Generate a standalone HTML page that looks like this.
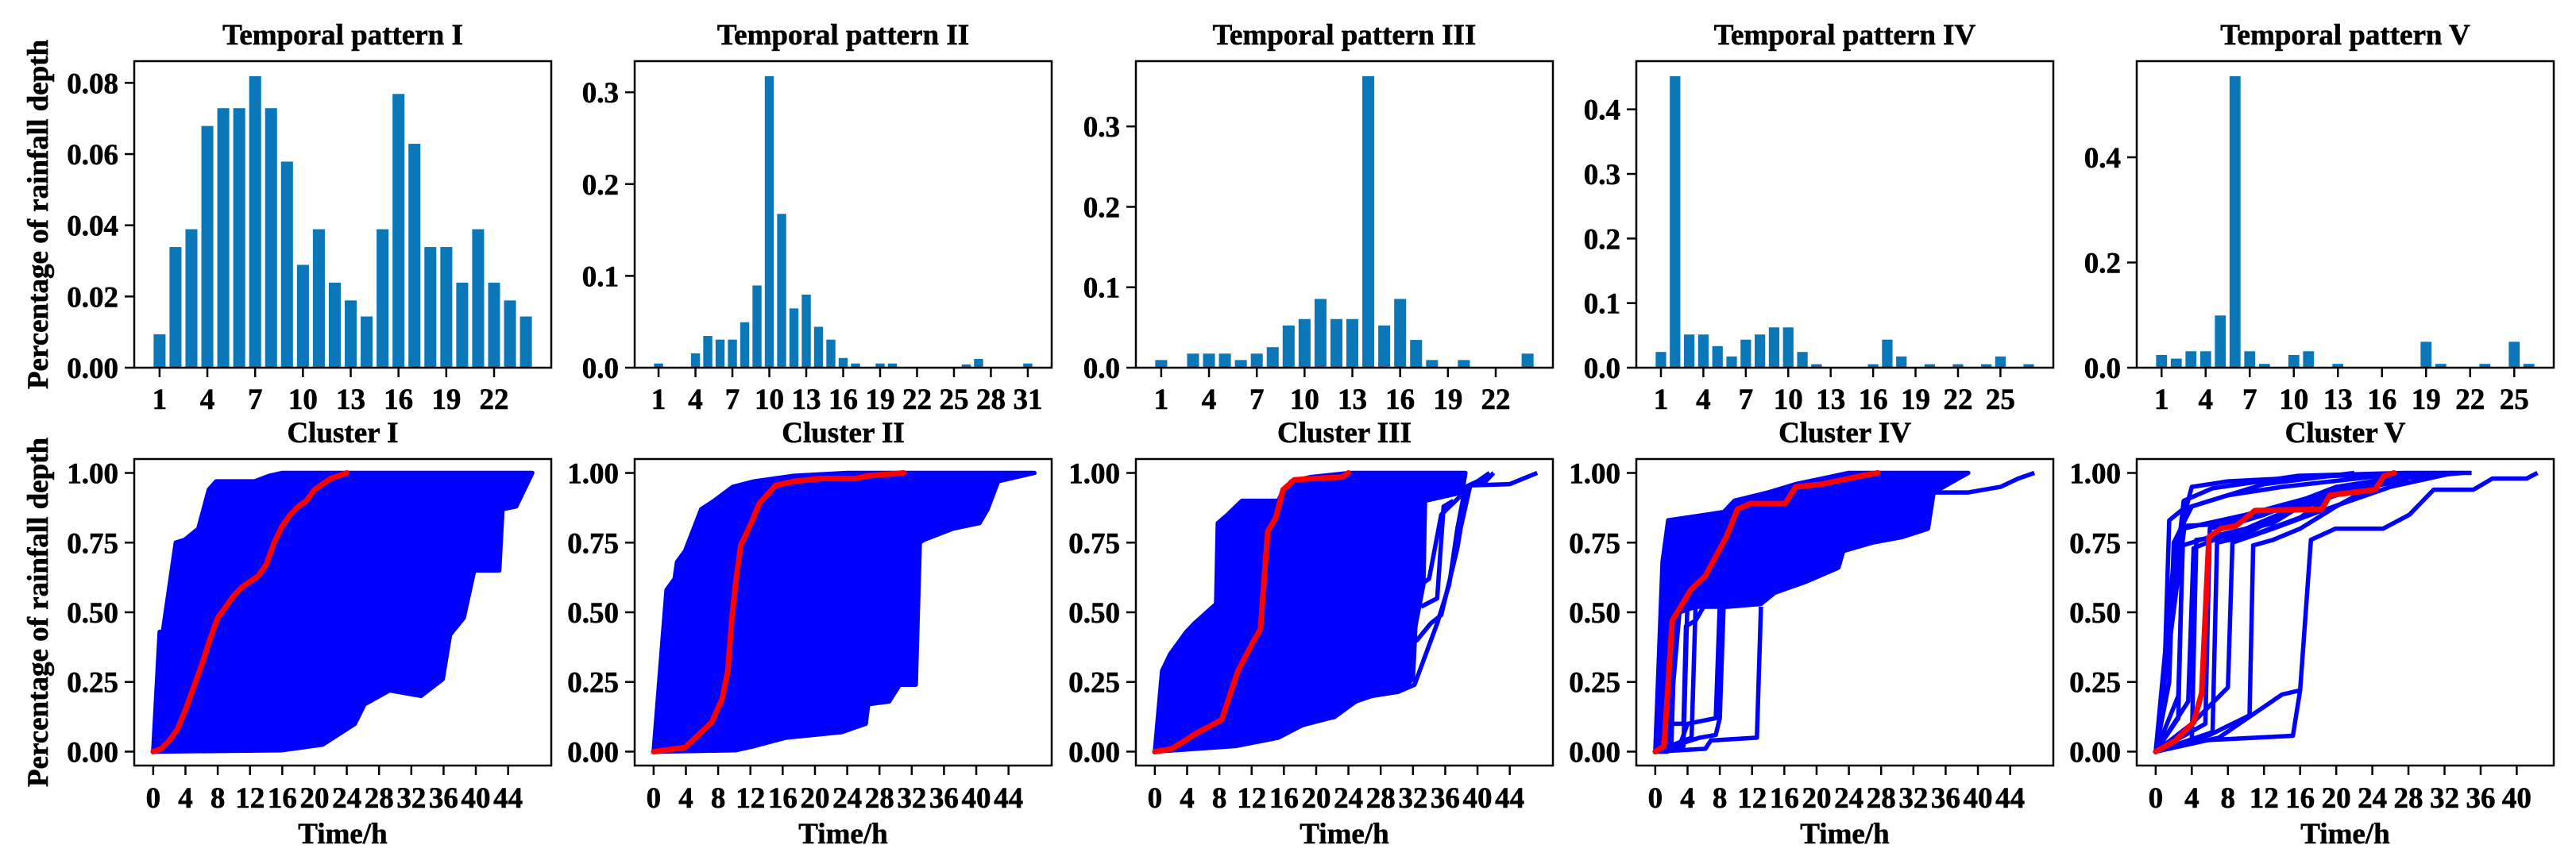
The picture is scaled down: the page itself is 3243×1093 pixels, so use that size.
<!DOCTYPE html>
<html><head><meta charset="utf-8">
<style>
html,body{margin:0;padding:0;background:#fff;}
svg{display:block;font-family:"Liberation Serif","Times New Roman",serif;font-weight:bold;}
</style></head>
<body>
<svg id="fig" width="3243" height="1093" viewBox="0 0 3243 1093" xmlns="http://www.w3.org/2000/svg">
<rect x="0" y="0" width="3243" height="1093" fill="#fff"/>
</svg>
<script>
// ---- Top row data: temporal pattern bars ----
const barsI = [0.0095,0.034,0.039,0.068,0.073,0.073,0.082,0.073,0.058,0.029,0.039,0.024,0.019,0.0145,0.039,0.077,0.063,0.034,0.034,0.024,0.039,0.024,0.019,0.0145];
const barsII = [0.005,0,0,0.016,0.035,0.031,0.031,0.05,0.09,0.318,0.168,0.065,0.08,0.045,0.031,0.011,0.005,0,0.005,0.005,0,0,0,0,0,0.004,0.01,0,0,0,0.005];
const barsIII = [0.01,0,0.018,0.018,0.018,0.01,0.018,0.026,0.053,0.061,0.086,0.061,0.061,0.363,0.053,0.086,0.035,0.01,0,0.01,0,0,0,0.018];
const barsIV = [0.025,0.452,0.052,0.052,0.034,0.018,0.044,0.052,0.063,0.063,0.025,0.006,0,0,0,0.006,0.044,0.018,0,0.006,0,0.006,0,0.006,0.018,0,0.006];
const barsV = [0.025,0.018,0.032,0.032,0.1,0.555,0.032,0.008,0,0.025,0.032,0,0.008,0,0,0,0,0,0.05,0.008,0,0,0.008,0,0.05,0.008];
const barXTicksI = [1,4,7,10,13,16,19,22];
const barXTicksII = [1,4,7,10,13,16,19,22,25,28,31];
const barXTicksIII = [1,4,7,10,13,16,19,22];
const barXTicksIV = [1,4,7,10,13,16,19,22,25];
const barXTicksV = [1,4,7,10,13,16,19,22,25];
const barYTicksI = ["0.00","0.02","0.04","0.06","0.08"];
const barYTicksII = ["0.0","0.1","0.2","0.3"];
const barYTicksIII = ["0.0","0.1","0.2","0.3"];
const barYTicksIV = ["0.0","0.1","0.2","0.3","0.4"];
const barYTicksV = ["0.0","0.2","0.4"];
const topTitles = ["Temporal pattern I","Temporal pattern II","Temporal pattern III","Temporal pattern IV","Temporal pattern V"];

// ---- Bottom row data: cumulative curves ----
const bottomTitles = ["Cluster I","Cluster II","Cluster III","Cluster IV","Cluster V"];
const lineXMax = [47,47,47,47,42];
const lineXTicksA = [0,4,8,12,16,20,24,28,32,36,40,44];
const lineXTicksV = [0,4,8,12,16,20,24,28,32,36,40];
const lineYTicks = ["0.00","0.25","0.50","0.75","1.00"];

// envelope polygons (dense bundles of blue curves), [x,y] pairs
const envI = [[0,0],[0.8,0.43],[1.2,0.43],[2.8,0.75],[3.9,0.76],[5.6,0.8],[6.9,0.94],[7.8,0.97],[12.6,0.97],[14.4,0.99],[16,1],[47,1],
  [45,0.88],[43.3,0.87],[42.9,0.65],[39.8,0.65],[38.5,0.48],[36.8,0.42],[35.9,0.26],[33.2,0.2],[29.3,0.22],[26.2,0.17],[25,0.1],[21,0.025],[16,0.005],[0,0]];
const envII = [[0,0],[1.6,0.58],[2.6,0.62],[2.9,0.68],[3.9,0.72],[5.9,0.87],[7.5,0.9],[9.8,0.95],[12.5,0.97],[17.4,0.99],[24,1],[47.2,1],
  [42.7,0.97],[41.4,0.87],[40.4,0.82],[37.1,0.8],[33.5,0.76],[33,0.75],[32.5,0.24],[30.5,0.24],[29.2,0.18],[26.6,0.17],[26.3,0.1],[23.3,0.07],[16.4,0.05],[12.5,0.02],[10.2,0.005],[0,0]];
const envIII = [[0,0],[0.9,0.29],[1.9,0.35],[3.9,0.43],[4.9,0.46],[7.6,0.53],[7.8,0.82],[9,0.85],[10.8,0.9],[15.3,0.9],[15.8,0.93],[16.9,0.97],[19.3,0.985],[24.2,1],[38.5,1],
  [38.1,0.93],[33.5,0.9],[33.3,0.6],[32.3,0.45],[32,0.26],[30.2,0.215],[26.9,0.2],[24.9,0.18],[22.3,0.125],[18.3,0.095],[15.3,0.05],[10,0.02],[0,0]];
const envIV = [[0,0],[0.9,0.68],[1.6,0.83],[8.5,0.86],[9.8,0.9],[14,0.93],[17.4,0.96],[20.7,0.98],[24,1],[38.8,1],
  [34.5,0.93],[33.8,0.8],[30.6,0.77],[26.9,0.75],[23.3,0.72],[22.7,0.66],[18.7,0.61],[14.8,0.57],[13.1,0.53],[9,0.52],[5,0.52],[3,0.5],[1.8,0.1],[1.5,0],[0,0]];

// individual blue curves
const curvesIII = [
  [[26.9,0.39],[32.5,0.4],[34.2,0.46],[35.5,0.49],[37.5,0.73],[37.9,0.8],[39.1,0.955],[44,0.96],[47.4,1]],
  [[22,0.12],[24.9,0.18],[26.9,0.2],[30.2,0.215],[32.2,0.24],[35,0.46],[36.5,0.6],[37.5,0.8],[38.5,0.95],[41,0.97],[42,1]],
  [[33,0.6],[34,0.62],[35.5,0.85],[38,0.92]],
  [[33,0.52],[35,0.55],[35.8,0.88],[37,0.9]],
  [[36,0.93],[38.5,0.95],[40,0.97],[41.5,1]]
];
const curvesIV = [
  [[0,0],[6.2,0.01],[6.9,0.04],[12.6,0.05],[13.1,0.52]],
  [[0,0],[3,0.02],[4,0.1],[7.5,0.12],[8,0.53]],
  [[0,0],[2,0.03],[2.5,0.5]],
  [[0,0],[4.5,0.05],[5,0.52]],
  [[0,0],[3.5,0.02],[4,0.55]],
  [[0,0],[2.2,0.1],[3.5,0.1],[3.8,0.45],[5,0.47],[6,0.52]],
  [[0,0],[5.5,0.05],[7.5,0.06],[8,0.12],[8.5,0.55]],
  [[33.8,0.8],[34.5,0.93],[38.8,0.93],[42.8,0.95],[45,0.98],[47,1]]
];
const curvesV = [
  [[0,0],[3.1,0.9],[6.3,0.945],[15.8,0.99],[27.5,1],[35,1]],
  [[0,0],[2.1,0.72],[4,0.95],[8,0.97],[20,0.99],[33,1]],
  [[0,0],[3.2,0.81],[9,0.82],[12,0.85],[16,0.9],[20,0.95],[28,0.99],[32,1]],
  [[0,0],[4,0.03],[4.5,0.76],[10,0.78],[14,0.85],[20,0.92],[28,0.98]],
  [[0,0],[5,0.04],[15.2,0.057],[16,0.22],[17.2,0.76],[19.9,0.8],[25.2,0.8],[28.1,0.85],[30.8,0.94],[35.2,0.94],[37.3,0.98],[41.1,0.98],[42.3,1]],
  [[0,0],[6,0.06],[10.4,0.13],[10.8,0.74],[13,0.76],[16,0.8],[20,0.88],[24,0.95],[30,1]],
  [[0,0],[7,0.05],[14,0.205],[16,0.22]],
  [[0,0],[2.5,0.2],[3,0.74],[6,0.77],[10,0.8],[15,0.87],[22,0.95],[30,1]],
  [[0,0],[3.6,0.18],[4.2,0.73],[8,0.78],[13,0.82],[17,0.9],[24,0.97],[34,1]],
  [[0,0],[6.3,0.07],[6.8,0.75],[11,0.78],[16,0.84],[20,0.93],[30,1]],
  [[0,0],[1.5,0.25],[2,0.75],[4,0.88],[8,0.92],[14,0.95],[25,0.99],[31,1]],
  [[0,0],[4,0.1],[8,0.23],[8.5,0.75],[13,0.8],[18,0.86],[26,0.95],[33,1]],
  [[0,0],[2.5,0.12],[3,0.8],[10,0.85],[18,0.92],[26,0.98]],
  [[0,0],[5.5,0.1],[6,0.8],[12,0.86],[20,0.92],[27,1]],
  [[0,0],[1,0.3],[1.5,0.83],[3,0.87],[6,0.9],[12,0.96],[22,1]]
];
// red mean curves
const redI = [[0,0],[1,0.01],[2,0.04],[3,0.08],[4,0.15],[5,0.23],[6,0.31],[7,0.4],[8,0.48],[9,0.52],[10,0.56],[11,0.59],[12,0.61],[13,0.63],[14,0.67],[15,0.75],[16,0.81],[17,0.85],[18,0.88],[19,0.9],[20,0.94],[21,0.96],[22,0.98],[23,0.99],[24,1]];
const redII = [[0,0],[3.9,0.015],[7.2,0.105],[8.5,0.19],[9.2,0.29],[9.7,0.48],[10.2,0.61],[10.8,0.74],[12.1,0.82],[13.1,0.89],[15.1,0.955],[17.4,0.97],[20.7,0.98],[25,0.98],[26.6,0.99],[31,1]];
const redIII = [[0,0],[2.1,0.01],[5.4,0.07],[7.4,0.1],[8.3,0.115],[10.3,0.29],[12.3,0.4],[13.1,0.44],[13.3,0.52],[14,0.79],[15,0.84],[15.9,0.94],[17.3,0.975],[19.6,0.98],[23.2,0.985],[24,1]];
const redIV = [[0,0],[1.1,0.02],[2.1,0.47],[4.4,0.58],[6.2,0.63],[7.5,0.7],[8.8,0.77],[10.2,0.87],[11.8,0.89],[16.1,0.89],[17.4,0.95],[20.7,0.96],[24,0.98],[25.6,0.99],[27.6,1]];
const redV = [[0,0],[2.2,0.04],[4.2,0.105],[5.1,0.21],[5.9,0.77],[7.2,0.8],[8.9,0.81],[11,0.865],[18.4,0.87],[19.3,0.92],[24.3,0.94],[25.3,0.99],[26.4,1]];

const topBars = [barsI,barsII,barsIII,barsIV,barsV];
const topXT = [barXTicksI,barXTicksII,barXTicksIII,barXTicksIV,barXTicksV];
const topYT = [barYTicksI,barYTicksII,barYTicksIII,barYTicksIV,barYTicksV];
const envs = [envI,envII,envIII,envIV,null];
const curves = [[],[],curvesIII,curvesIV,curvesV];
const reds = [redI,redII,redIII,redIV,redV];

// ---- layout ----
const NS = "http://www.w3.org/2000/svg";
const svg = document.getElementById('fig');
const LEFTS = [169,799,1430,2060,2690];
const PW = 525;
const TOP = {y0:77,y1:463}, BOT = {y0:578,y1:964};
const FS = 37;
const LW = 5.5;

function mk(tag, attrs, parent){
  const e = document.createElementNS(NS, tag);
  for (const k in attrs) e.setAttribute(k, attrs[k]);
  (parent||svg).appendChild(e);
  return e;
}
function txt(s, x, y, anchor, parent, size){
  const t = mk('text', {x:x, y:y, 'text-anchor':anchor, 'font-size':size||FS, fill:'#000', stroke:'#000', 'stroke-width':0.6}, parent);
  t.textContent = s;
  return t;
}
function scale(d0,d1,r0,r1){ return v => r0 + (v-d0)/(d1-d0)*(r1-r0); }

// y labels
[ (TOP.y0+TOP.y1)/2, (BOT.y0+BOT.y1)/2 ].forEach((cy,i)=>{
  const t = mk('text',{x:0,y:0,'text-anchor':'middle','font-size':FS,fill:'#000',stroke:'#000','stroke-width':0.6,transform:`translate(60,${cy}) rotate(-90)`});
  
  
  t.textContent = 'Percentage of rainfall depth';
});

for (let p=0;p<5;p++){
  const L = LEFTS[p], R = L+PW;
  // ---------- top bar chart ----------
  const g = mk('g',{});
  
  
  const data = topBars[p], N = data.length;
  const pad = 0.05*(N-0.2);
  const xs = scale(0.6-pad, N+0.4+pad, L, R);
  const maxV = Math.max(...data);
  const ys = scale(0, maxV*1.05, TOP.y1, TOP.y0);
  const bw = xs(0.8)-xs(0);
  data.forEach((v,i)=>{
    if (v<=0) return;
    const b = mk('rect',{x:xs(i+1)-bw/2, y:ys(v), width:bw, height:ys(0)-ys(v), fill:'#0a77b8', stroke:'#fff', 'stroke-width':1}, g);
    
    
  });
  mk('rect',{x:L,y:TOP.y0,width:PW,height:TOP.y1-TOP.y0,fill:'none',stroke:'#000','stroke-width':2.5},g);
  topXT[p].forEach(t=>{
    const x = xs(t);
    mk('line',{x1:x,x2:x,y1:TOP.y1,y2:TOP.y1+12,stroke:'#000','stroke-width':2.5},g);
    const tl = txt(String(t), x, 515, 'middle', g);
    
    
  });
  topYT[p].forEach(s=>{
    const y = ys(parseFloat(s));
    mk('line',{x1:L-12,x2:L,y1:y,y2:y,stroke:'#000','stroke-width':2.5},g);
    const tl = txt(s, L-20, y+13, 'end', g);
    
    
  });
  const tt = txt(topTitles[p], L+PW/2, 56, 'middle', g);
  
  

  // ---------- bottom line chart ----------
  const h = mk('g',{});
  
  
  const xm = lineXMax[p];
  const lx = scale(-0.05*xm, 1.05*xm, L, R);
  const ly = scale(-0.05, 1.05, BOT.y1, BOT.y0);
  const clipId = 'clip'+p;
  const cp = mk('clipPath',{id:clipId},h);
  mk('rect',{x:L,y:BOT.y0,width:PW,height:BOT.y1-BOT.y0},cp);
  const plot = mk('g',{'clip-path':`url(#${clipId})`},h);
  const pts = arr => arr.map(q=>lx(q[0]).toFixed(1)+','+ly(q[1]).toFixed(1)).join(' ');
  if (envs[p]){
    const e = mk('polygon',{points:pts(envs[p]),fill:'#0000ff',stroke:'#0000ff','stroke-width':LW,'stroke-linejoin':'round'},plot);
    
    
  }
  curves[p].forEach((c,i)=>{
    const l = mk('polyline',{points:pts(c),fill:'none',stroke:'#0000ff','stroke-width':LW,'stroke-linejoin':'round'},plot);
    
    
  });
  const rl = mk('polyline',{points:pts(reds[p]),fill:'none',stroke:'#ff0000','stroke-width':7,'stroke-linejoin':'round','stroke-linecap':'round'},plot);
  
  
  mk('rect',{x:L,y:BOT.y0,width:PW,height:BOT.y1-BOT.y0,fill:'none',stroke:'#000','stroke-width':2.5},h);
  (p===4?lineXTicksV:lineXTicksA).forEach(t=>{
    const x = lx(t);
    mk('line',{x1:x,x2:x,y1:BOT.y1,y2:BOT.y1+12,stroke:'#000','stroke-width':2.5},h);
    const tl = txt(String(t), x, 1017, 'middle', h);
    
    
  });
  lineYTicks.forEach(s=>{
    const y = ly(parseFloat(s));
    mk('line',{x1:L-12,x2:L,y1:y,y2:y,stroke:'#000','stroke-width':2.5},h);
    const tl = txt(s, L-20, y+13, 'end', h);
    
    
  });
  const bt = txt(bottomTitles[p], L+PW/2, 557, 'middle', h);
  
  
  const xt = txt('Time/h', L+PW/2, 1062, 'middle', h);
  
  
}
</script>
</body></html>
